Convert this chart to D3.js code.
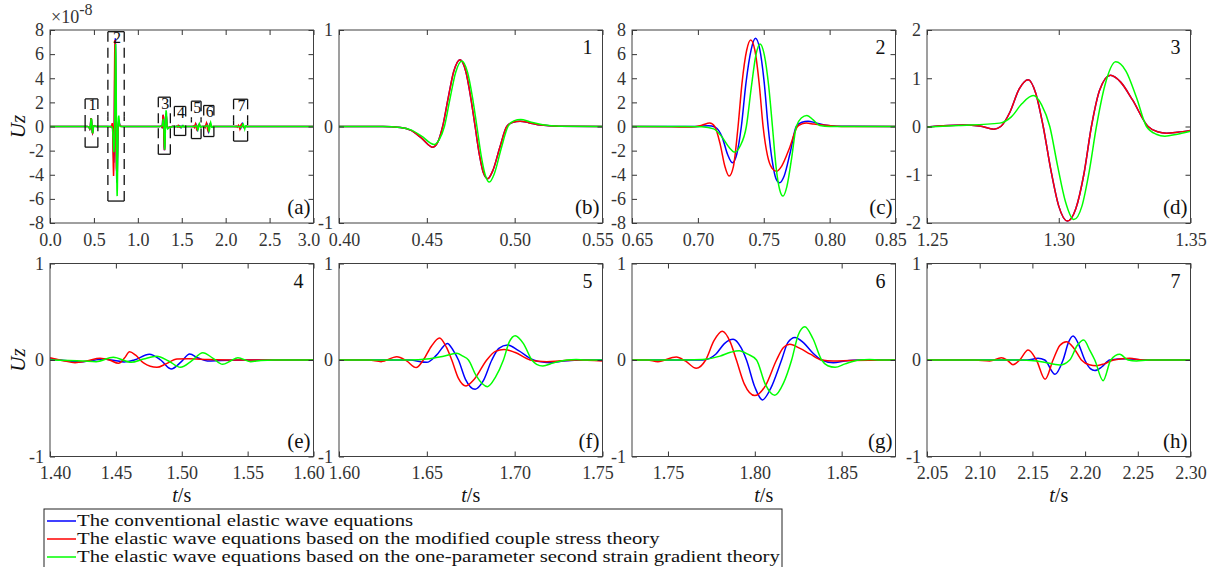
<!DOCTYPE html>
<html>

<head>
    <meta charset="utf-8">
    <style>
        body {
            margin: 0;
            background: #fff;
        }

        svg {
            font-family: 'Liberation Serif', 'Times New Roman', serif;
        }

        .tick text {
            font-family: 'Liberation Serif', 'Times New Roman', serif;
            font-size: 18px;
            fill: #333;
        }

        .tick line {
            stroke: #333;
        }

        .box {
            fill: none;
            stroke: #404040;
            stroke-width: 1;
        }

        .wave {
            fill: none;
            stroke-width: 1.5;
        }

        .win {
            stroke: #111;
            stroke-width: 1.3;
            stroke-dasharray: 10, 6;
        }
    </style>
</head>

<body>
    <svg width="1220" height="567"></svg>
</body>

<script src="https://d3js.org/d3.v7.min.js"></script>

<script>
    // colours of the three models
    let blue = "#0000ff",
        red = "#ff0000",
        green = "#00ff00";

    let legendLabels = [
        "The conventional elastic wave equations",
        "The elastic wave equations based on the modified couple stress theory",
        "The elastic wave equations based on the one-parameter second strain gradient theory"
    ]

    // tick values
    let xTicksA = [0, 0.5, 1.0, 1.5, 2.0, 2.5, 3.0]
    let yTicksA = [-8, -6, -4, -2, 0, 2, 4, 6, 8]
    let xTicksB = [0.40, 0.45, 0.50, 0.55]
    let xTicksC = [0.65, 0.70, 0.75, 0.80, 0.85]
    let yTicksC = [-8, -6, -4, -2, 0, 2, 4, 6, 8]
    let xTicksD = [1.25, 1.30, 1.35]
    let yTicksD = [-2, -1, 0, 1, 2]
    let xTicksE = [1.40, 1.45, 1.50, 1.55, 1.60]
    let xTicksF = [1.60, 1.65, 1.70, 1.75]
    let xTicksG = [1.75, 1.80, 1.85]
    let xTicksH = [2.05, 2.10, 2.15, 2.20, 2.25, 2.30]
    let yTicksUnit = [-1, 0, 1]

    // Uz (x1e-8), [t, value]
    // window 1
    let redB = [[0.400, 0], [0.425, 0], [0.435, -0.01], [0.441, -0.04], [0.447, -0.12], [0.4534, -0.214], [0.4563, -0.16],
        [0.4590, 0], [0.4622, 0.3], [0.4653, 0.57], [0.4689, 0.693], [0.4722, 0.57], [0.4750, 0.3], [0.4775, 0],
        [0.4800, -0.3], [0.4822, -0.48], [0.4847, -0.541], [0.4875, -0.46], [0.4915, -0.22], [0.4955, 0],
        [0.4990, 0.045], [0.5031, 0.055], [0.5080, 0.04], [0.515, 0.015], [0.525, 0.003], [0.55, 0]]
    let greenB = [[0.400, 0], [0.425, 0], [0.435, -0.01], [0.441, -0.035], [0.447, -0.1], [0.4541, -0.186], [0.4572, -0.13],
        [0.4600, 0], [0.4632, 0.29], [0.4664, 0.56], [0.4699, 0.68], [0.4732, 0.56], [0.4760, 0.3], [0.4785, 0],
        [0.4810, -0.31], [0.4832, -0.5], [0.4856, -0.576], [0.4884, -0.49], [0.4923, -0.23], [0.4962, 0],
        [0.4995, 0.058], [0.5035, 0.072], [0.5085, 0.05], [0.516, 0.018], [0.526, 0.003], [0.55, 0]]
    let blueB = redB

    // window 2
    let blueC = [[0.650, 0], [0.690, 0], [0.700, 0.01], [0.708, 0.06], [0.713, -0.05], [0.7185, -0.9], [0.7225, -2.3],
        [0.7262, -3.0], [0.7295, -2.3], [0.7330, 0], [0.7365, 3.6], [0.7405, 6.4], [0.7437, 7.31], [0.7470, 6.4],
        [0.7503, 3.7], [0.7533, 0], [0.7565, -2.9], [0.7592, -4.3], [0.7620, -4.66], [0.7655, -4.1], [0.7700, -2.2],
        [0.7747, 0], [0.7790, 0.35], [0.7836, 0.44], [0.789, 0.32], [0.796, 0.12], [0.805, 0.02], [0.85, 0]]
    let redC = [[0.650, 0], [0.680, -0.02], [0.695, -0.05], [0.703, 0.1], [0.709, 0.28], [0.7128, 0], [0.7170, -1.5],
        [0.7205, -3.3], [0.7237, -4.11], [0.7270, -3.3], [0.7305, 0], [0.7335, 3.6], [0.7370, 6.3], [0.7401, 7.17],
        [0.7433, 6.3], [0.7465, 3.6], [0.7495, 0], [0.7528, -2.4], [0.7562, -3.45], [0.7596, -3.72], [0.7635, -3.3],
        [0.7695, -1.8], [0.7756, 0], [0.7790, 0.22], [0.7824, 0.28], [0.788, 0.2], [0.795, 0.12], [0.8025, 0.05],
        [0.815, 0], [0.85, 0]]
    let greenC = [[0.650, 0], [0.690, 0], [0.703, -0.03], [0.712, -0.2], [0.7185, -0.9], [0.7235, -1.7], [0.7280, -2.12],
        [0.7322, -1.6], [0.7368, 0], [0.7405, 3.2], [0.7440, 5.9], [0.7472, 6.84], [0.7505, 5.9], [0.7538, 3.3],
        [0.7566, 0], [0.7593, -3.3], [0.7620, -5.2], [0.7646, -5.77], [0.7675, -5.0], [0.7712, -2.6], [0.7747, 0],
        [0.7785, 0.7], [0.7828, 0.91], [0.7875, 0.55], [0.7925, 0.08], [0.800, 0], [0.85, 0]]

    // window 3
    let redD = [[1.250, -0.01], [1.2637, 0.03], [1.270, 0.01], [1.2754, -0.055], [1.2780, 0], [1.2815, 0.3], [1.2850, 0.78],
        [1.2884, 0.97], [1.2912, 0.7], [1.2941, 0], [1.2970, -0.9], [1.3000, -1.65], [1.3033, -1.96], [1.3065, -1.7],
        [1.3095, -1.0], [1.3124, 0], [1.3155, 0.75], [1.3196, 1.06], [1.3235, 0.92], [1.3280, 0.55], [1.3339, 0],
        [1.3375, -0.11], [1.3409, -0.14], [1.3450, -0.12], [1.350, -0.08]]
    let greenD = [[1.250, -0.01], [1.262, 0.02], [1.2776, 0.07], [1.2820, 0.2], [1.2860, 0.47], [1.2903, 0.64],
        [1.2935, 0.45], [1.2966, 0], [1.2995, -0.8], [1.3025, -1.55], [1.3057, -1.93], [1.3088, -1.65], [1.3115, -0.95],
        [1.3143, 0], [1.3175, 0.85], [1.3216, 1.34], [1.3255, 1.15], [1.3295, 0.6], [1.3333, 0], [1.3370, -0.16],
        [1.3403, -0.2], [1.3450, -0.16], [1.350, -0.1]]
    let blueD = redD

    // window 4
    let blueE = [[1.400, 0.01], [1.415, -0.01], [1.4225, -0.02], [1.432, -0.005], [1.4406, 0.01], [1.449, -0.005],
        [1.4563, -0.02], [1.464, 0], [1.4754, 0.059], [1.484, 0], [1.4919, -0.093], [1.4995, -0.02], [1.506, 0.062],
        [1.5125, 0.02], [1.5194, -0.01], [1.530, -0.005], [1.550, 0], [1.600, 0]]
    let redE = [[1.400, 0.024], [1.410, -0.007], [1.419, -0.028], [1.428, -0.01], [1.438, 0.017], [1.445, 0],
        [1.452, -0.034], [1.4565, 0.02], [1.4604, 0.086], [1.465, 0.05], [1.471, -0.03], [1.4812, -0.076],
        [1.488, -0.04], [1.4964, 0.01], [1.505, 0.012], [1.520, 0.005], [1.540, 0], [1.600, 0]]
    let greenE = [[1.400, 0], [1.425, -0.01], [1.435, -0.017], [1.448, 0.028], [1.4615, -0.024], [1.471, 0.01],
        [1.481, 0.04], [1.490, -0.01], [1.499, -0.076], [1.5075, -0.01], [1.516, 0.076], [1.5235, 0.02],
        [1.531, -0.045], [1.537, -0.01], [1.5426, 0.024], [1.5522, -0.017], [1.560, -0.005], [1.570, 0], [1.600, 0]]

    // window 5
    let blueF = [[1.600, 0], [1.640, 0], [1.650, -0.024], [1.6555, 0.05], [1.6617, 0.172], [1.6650, 0.1], [1.6680, 0],
        [1.6720, -0.2], [1.6775, -0.303], [1.6820, -0.22], [1.6870, 0], [1.6910, 0.12], [1.6959, 0.155], [1.7020, 0.1],
        [1.7107, 0], [1.7160, -0.022], [1.7200, -0.028], [1.728, -0.01], [1.740, 0], [1.750, 0]]
    let redF = [[1.600, 0], [1.617, 0], [1.624, -0.017], [1.6329, 0.034], [1.6385, -0.01], [1.6439, -0.079], [1.6480, 0],
        [1.6525, 0.14], [1.6572, 0.228], [1.6612, 0.13], [1.6642, 0], [1.6680, -0.19], [1.6723, -0.269], [1.6770, -0.2],
        [1.6841, 0], [1.6890, 0.09], [1.6940, 0.11], [1.7000, 0.08], [1.7088, 0], [1.7135, -0.014], [1.7183, -0.017],
        [1.726, -0.008], [1.735, 0], [1.750, -0.01]]
    let greenF = [[1.600, 0], [1.640, 0], [1.650, 0.01], [1.6595, 0.04], [1.6670, 0.069], [1.6705, 0.04], [1.6737, 0],
        [1.6780, -0.16], [1.6845, -0.276], [1.6890, -0.18], [1.6936, 0], [1.6970, 0.19], [1.7003, 0.252], [1.7050, 0.17],
        [1.7098, 0], [1.7125, -0.045], [1.7160, -0.062], [1.7220, -0.03], [1.7297, 0], [1.735, 0.006], [1.740, 0],
        [1.750, 0]]

    // window 6
    let blueG = [[1.7293, 0], [1.770, 0], [1.7775, 0.06], [1.7825, 0.17], [1.7875, 0.214], [1.7920, 0.13], [1.7952, 0],
        [1.8000, -0.28], [1.8044, -0.414], [1.8090, -0.3], [1.8154, 0], [1.8190, 0.18], [1.8231, 0.234], [1.8280, 0.18],
        [1.8330, 0.08], [1.8385, 0], [1.8452, -0.028], [1.852, -0.01], [1.860, 0], [1.881, 0]]
    let redG = [[1.7293, 0], [1.738, 0], [1.7442, -0.017], [1.7548, 0.031], [1.7600, -0.01], [1.7663, -0.086],
        [1.7717, 0], [1.7765, 0.2], [1.7813, 0.297], [1.7860, 0.18], [1.7894, 0], [1.7940, -0.25], [1.8000, -0.369],
        [1.8060, -0.27], [1.8125, 0], [1.8165, 0.13], [1.8202, 0.162], [1.8260, 0.12], [1.8320, 0.06], [1.8385, 0],
        [1.8452, -0.01], [1.855, -0.005], [1.881, 0]]
    let greenG = [[1.7293, 0], [1.760, 0], [1.770, 0.005], [1.780, 0.04], [1.786, 0.08], [1.7910, 0.097], [1.7960, 0.06],
        [1.8010, 0], [1.8060, -0.25], [1.8115, -0.366], [1.8165, -0.24], [1.8212, 0], [1.8250, 0.26], [1.8288, 0.345],
        [1.8335, 0.22], [1.8385, 0], [1.8420, -0.06], [1.8462, -0.076], [1.852, -0.04], [1.860, 0], [1.866, 0.006],
        [1.872, 0], [1.881, 0]]

    // window 7
    let blueH = [[2.050, 0], [2.120, 0], [2.145, 0], [2.1554, 0.017], [2.1617, 0], [2.1715, -0.148], [2.1791, 0],
        [2.1845, 0.19], [2.1886, 0.248], [2.1940, 0.16], [2.1997, 0], [2.2050, -0.09], [2.2092, -0.11], [2.2160, -0.07],
        [2.2234, 0], [2.2392, 0.014], [2.255, 0], [2.300, 0]]
    let redH = [[2.050, 0], [2.095, 0], [2.1095, -0.01], [2.1206, 0.024], [2.1260, 0], [2.1316, -0.048], [2.1380, 0],
        [2.1459, 0.103], [2.1538, 0], [2.1620, -0.2], [2.1696, 0], [2.1760, 0.15], [2.1823, 0.19], [2.1895, 0.12],
        [2.1965, 0], [2.2040, -0.05], [2.2108, -0.059], [2.2180, -0.04], [2.2270, 0], [2.2424, 0.017], [2.255, 0],
        [2.300, 0]]
    let greenH = [[2.050, 0], [2.140, 0], [2.160, -0.02], [2.176, -0.052], [2.1854, 0], [2.1925, 0.15], [2.1987, 0.207],
        [2.2045, 0.1], [2.2092, 0], [2.2171, -0.214], [2.2244, 0], [2.2329, 0.059], [2.2408, 0], [2.2487, -0.01],
        [2.260, 0], [2.300, 0]]

    // zoom windows marked in (a): t0, t1, u0, u1
    let windows = [
        [0.400, 0.545, -1.71, 2.29],
        [0.659, 0.845, -6.18, 7.86],
        [1.233, 1.370, -2.30, 2.43],
        [1.416, 1.545, -0.74, 1.66],
        [1.610, 1.720, -1.00, 2.10],
        [1.750, 1.866, -0.83, 1.74],
        [2.090, 2.250, -1.21, 2.26]
    ]

    // full record = all windows joined, zero elsewhere
    function joinTrace(parts) {
        let all = [[0, 0], [3, 0]]
        parts.forEach(p => all = all.concat(p))
        return all.sort((a, b) => a[0] - b[0])
    }
    let blueA = joinTrace([blueB, blueC, blueD, blueE, blueF, blueG, blueH])
    let redA = joinTrace([redB, redC, redD, redE, redF, redG, redH])
    let greenA = joinTrace([greenB, greenC, greenD, greenE, greenF, greenG, greenH])

    let svg = d3.select("svg")

    let w = 263.5,
        h = 193;
    let colX = [50, 339, 632, 927]
    let rowY = [30, 263.5]

    let panels = [
        { id: "a", col: 0, row: 0, xd: [0, 3], xt: xTicksA, xf: ".1f", yd: [-8, 8], yt: yTicksA, num: "", tag: "(a)", lines: [blueA, redA, greenA], smooth: false },
        { id: "b", col: 1, row: 0, xd: [0.40, 0.55], xt: xTicksB, xf: ".2f", yd: [-1, 1], yt: yTicksUnit, num: "1", tag: "(b)", lines: [blueB, redB, greenB], smooth: true },
        { id: "c", col: 2, row: 0, xd: [0.65, 0.85], xt: xTicksC, xf: ".2f", yd: [-8, 8], yt: yTicksC, num: "2", tag: "(c)", lines: [blueC, redC, greenC], smooth: true },
        { id: "d", col: 3, row: 0, xd: [1.25, 1.35], xt: xTicksD, xf: ".2f", yd: [-2, 2], yt: yTicksD, num: "3", tag: "(d)", lines: [blueD, redD, greenD], smooth: true },
        { id: "e", col: 0, row: 1, xd: [1.40, 1.60], xt: xTicksE, xf: ".2f", yd: [-1, 1], yt: yTicksUnit, num: "4", tag: "(e)", lines: [blueE, redE, greenE], smooth: true },
        { id: "f", col: 1, row: 1, xd: [1.60, 1.75], xt: xTicksF, xf: ".2f", yd: [-1, 1], yt: yTicksUnit, num: "5", tag: "(f)", lines: [blueF, redF, greenF], smooth: true },
        { id: "g", col: 2, row: 1, xd: [1.7293, 1.881], xt: xTicksG, xf: ".2f", yd: [-1, 1], yt: yTicksUnit, num: "6", tag: "(g)", lines: [blueG, redG, greenG], smooth: true },
        { id: "h", col: 3, row: 1, xd: [2.05, 2.30], xt: xTicksH, xf: ".2f", yd: [-1, 1], yt: yTicksUnit, num: "7", tag: "(h)", lines: [blueH, redH, greenH], smooth: true }
    ]

    let lineColors = [blue, red, green]

    panels.forEach(p => {
        let g = svg.append("g")
            .attr("transform", `translate(${colX[p.col]},${rowY[p.row]})`)

        let x = d3.scaleLinear().domain(p.xd).range([0, w])
        let y = d3.scaleLinear().domain(p.yd).range([h, 0])

        g.append("clipPath")
            .attr("id", "clip-" + p.id)
            .append("rect")
            .attr("width", w)
            .attr("height", h)

        let line = d3.line()
            .x(d => x(d[0]))
            .y(d => y(d[1]))
            .curve(p.smooth ? d3.curveMonotoneX : d3.curveLinear)

        g.append("g")
            .attr("clip-path", `url(#clip-${p.id})`)
            .selectAll("path")
            .data(p.lines)
            .join("path")
            .attr("class", "wave")
            .attr("stroke", (d, i) => lineColors[i])
            .attr("d", line)

        // axes with inward ticks on all four sides
        let fmtY = d => String(d)
        let xAxis = g.append("g")
            .attr("transform", `translate(0,${h})`)
            .call(d3.axisBottom(x).tickValues(p.xt).tickFormat(d3.format(p.xf)).tickSize(-5).tickPadding(10))
        g.append("g")
            .call(d3.axisTop(x).tickValues(p.xt).tickFormat("").tickSize(-5))
        g.append("g")
            .call(d3.axisLeft(y).tickValues(p.yt).tickFormat(fmtY).tickSize(-5).tickPadding(6))
        g.append("g")
            .attr("transform", `translate(${w},0)`)
            .call(d3.axisRight(y).tickValues(p.yt).tickFormat("").tickSize(-5))
        g.selectAll(".domain").remove()
        g.selectAll(".tick text").attr("font-family", null).attr("font-size", null)

        // end labels lean inward where they meet the neighbour panel
        let nx = p.xt.length
        if (p.id != "a" && p.xt[0] == p.xd[0]) {
            xAxis.selectAll(".tick text").filter((d, i) => i == 0).attr("dx", 5)
        }
        if (p.col < 3 && p.xt[nx - 1] == p.xd[1]) {
            xAxis.selectAll(".tick text").filter((d, i) => i == nx - 1).attr("dx", -5)
        }

        g.append("rect")
            .attr("class", "box")
            .attr("width", w)
            .attr("height", h)

        g.append("text")
            .attr("x", w - 10)
            .attr("y", 24)
            .attr("text-anchor", "end")
            .style("font-size", "20px")
            .attr("fill", "#111")
            .text(p.num)

        g.append("text")
            .attr("x", w - 3)
            .attr("y", h - 9)
            .attr("text-anchor", "end")
            .style("font-size", "21px")
            .attr("fill", "#111")
            .text(p.tag)

        if (p.id == "a") {
            // dashed boxes of the zoom windows
            windows.forEach((win, i) => {
                let x0 = x(win[0]),
                    x1 = x(win[1]),
                    yT = y(win[3]),
                    yB = y(win[2]),
                    yM = (yT + yB) / 2
                let wg = g.append("g")
                wg.append("line").attr("class", "win").style("stroke-dasharray", "none")
                    .attr("x1", x0).attr("x2", x1).attr("y1", yT).attr("y2", yT)
                wg.append("line").attr("class", "win").style("stroke-dasharray", "none")
                    .attr("x1", x0).attr("x2", x1).attr("y1", yB).attr("y2", yB)
                ;[x0, x1].forEach(xx => {
                    wg.append("line").attr("class", "win")
                        .attr("x1", xx).attr("x2", xx).attr("y1", yT).attr("y2", yM)
                    wg.append("line").attr("class", "win")
                        .attr("x1", xx).attr("x2", xx).attr("y1", yB).attr("y2", yM)
                })
                wg.append("text")
                    .attr("x", (x0 + x1) / 2 + 1)
                    .attr("y", yT + 11.5)
                    .attr("text-anchor", "middle")
                    .style("font-size", "16px")
                    .attr("fill", "#111")
                    .text(i + 1)
            })

            // exponent of the axis
            let ex = svg.append("text")
                .attr("x", 51)
                .attr("y", 23)
                .attr("fill", "#333")
                .style("font-size", "18px")
            ex.append("tspan").text("\u00d710")
            ex.append("tspan").attr("dy", -8).style("font-size", "16px").text("-8")
        }
    })

    // axis titles
    function addUz(cy) {
        svg.append("text")
            .attr("transform", `translate(25,${cy}) rotate(-90)`)
            .attr("text-anchor", "middle")
            .style("font-size", "21px")
            .style("font-style", "italic")
            .attr("fill", "#111")
            .text("Uz")
    }
    addUz(rowY[0] + h / 2)
    addUz(rowY[1] + h / 2)

    colX.forEach(cx => {
        let t = svg.append("text")
            .attr("x", cx + w / 2)
            .attr("y", 502)
            .attr("text-anchor", "middle")
            .style("font-size", "20px")
            .attr("fill", "#111")
        t.append("tspan").style("font-style", "italic").text("t")
        t.append("tspan").text("/s")
    })

    // legend
    svg.append("rect")
        .attr("x", 44)
        .attr("y", 509)
        .attr("width", 738)
        .attr("height", 64)
        .attr("fill", "white")
        .attr("stroke", "#222")
        .attr("stroke-width", 1)

    legendLabels.forEach((label, i) => {
        let cy = 521 + i * 18
        svg.append("line")
            .attr("x1", 47)
            .attr("x2", 76)
            .attr("y1", cy)
            .attr("y2", cy)
            .attr("stroke", lineColors[i])
            .attr("stroke-width", 1.5)
        svg.append("text")
            .attr("transform", `translate(77,${cy + 4.5}) scale(1.22,1)`)
            .style("font-size", "17px")
            .attr("fill", "#111")
            .text(label)
    })
</script>

</html>
